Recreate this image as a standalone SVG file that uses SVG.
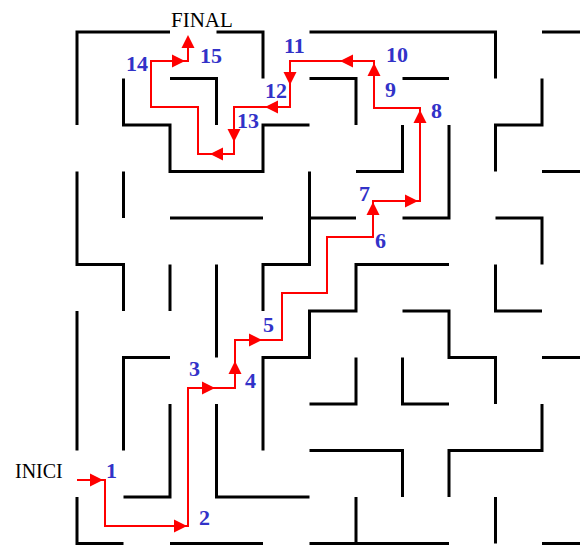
<svg xmlns="http://www.w3.org/2000/svg" xmlns:xlink="http://www.w3.org/1999/xlink" width="580" height="545" viewBox="0 0 580 545">
  <style>
    .wall { fill: none; stroke: #000; stroke-width: 3; stroke-linejoin: miter; stroke-linecap: butt; }
    .route { fill: none; stroke: #ff0000; stroke-width: 2; stroke-linejoin: miter; }
    .head { fill: #ff0000; }
    .step { font-family: "Liberation Serif", "Times New Roman", serif; font-size: 22px; font-weight: bold; fill: #3232c8; }
    .tag { font-family: "Liberation Serif", "Times New Roman", serif; font-size: 21px; fill: #000; }
  </style>
  <defs>
    <!-- arrowhead pointing right, tip at origin -->
    <path id="ah" d="M0 0 L-13 -6.5 L-13 6.5 Z"/>
  </defs>
  <rect width="580" height="545" fill="#fff"/>

  <!-- maze walls: grid x = 77 + 46.5i, y = 32 + 46.5j -->
  <g id="walls" class="wall">
    <path d="M77 125 V32 H170"/>
    <path d="M216.5 32 H263 V78.5"/>
    <path d="M309.5 32 H495.5 V78.5"/>
    <path d="M542 32 H582"/>
    <path d="M123.5 78.5 V125 H170 V171.5 H263 V125 H309.5"/>
    <path d="M170 78.5 H216.5 V125"/>
    <path d="M309.5 78.5 H356 V125"/>
    <path d="M402.5 78.5 H449"/>
    <path d="M356 171.5 H402.5 V125"/>
    <path d="M449 125 V218 H402.5"/>
    <path d="M542 78.5 V125 H495.5 V171.5"/>
    <path d="M542 171.5 H582"/>
    <path d="M77 171.5 V264.5 H123.5 V311"/>
    <path d="M123.5 171.5 V218"/>
    <path d="M170 218 H263"/>
    <path d="M263 311 V264.5 H309.5 V171.5 M309.5 218 H356"/>
    <path d="M170 264.5 V311"/>
    <path d="M216.5 264.5 V357.5"/>
    <path d="M495.5 218 H542 V264.5"/>
    <path d="M263 450.5 V357.5 H309.5 V311 H356 V264.5 H449"/>
    <path d="M402.5 311 H449 V357.5 H495.5 V404"/>
    <path d="M495.5 264.5 V311 H542"/>
    <path d="M542 357.5 H582"/>
    <path d="M77 311 V450.5"/>
    <path d="M170 357.5 H123.5 V450.5"/>
    <path d="M356 357.5 V404 H309.5"/>
    <path d="M402.5 357.5 V404 H449"/>
    <path d="M170 404 V497 H123.5"/>
    <path d="M216.5 404 V497 H309.5"/>
    <path d="M309.5 450.5 H402.5 V497"/>
    <path d="M542 404 V450.5 H449 V497"/>
    <path d="M77 497 V543.5 H123.5"/>
    <path d="M170 543.5 H263"/>
    <path d="M356 497 V543.5 M309.5 543.5 H449"/>
    <path d="M495.5 497 V543.5"/>
    <path d="M542 543.5 H582"/>
  </g>

  <!-- solution route with direction arrows -->
  <g id="connectors">
    <polyline class="route" points="77,480 105,480 105,526 188,526 188,388 235,388 235,340 282,340 282,293 327,293 327,237 373,237 373,201 420,201 420,108 374,108 374,61 290,61 290,107 234,107 234,154 198,154 198,107 151,107 151,61 188,61 188,42"/>
    <g class="head">
      <use xlink:href="#ah" transform="translate(103 480)"/>
      <use xlink:href="#ah" transform="translate(187 526)"/>
      <use xlink:href="#ah" transform="translate(215 388)"/>
      <use xlink:href="#ah" transform="translate(235 361) rotate(-90)"/>
      <use xlink:href="#ah" transform="translate(262 340)"/>
      <use xlink:href="#ah" transform="translate(373 202) rotate(-90)"/>
      <use xlink:href="#ah" transform="translate(418 201)"/>
      <use xlink:href="#ah" transform="translate(420 110) rotate(-90)"/>
      <use xlink:href="#ah" transform="translate(374 63) rotate(-90)"/>
      <use xlink:href="#ah" transform="translate(340 61) rotate(180)"/>
      <use xlink:href="#ah" transform="translate(290 85) rotate(90)"/>
      <use xlink:href="#ah" transform="translate(265 107) rotate(180)"/>
      <use xlink:href="#ah" transform="translate(234 142) rotate(90)"/>
      <use xlink:href="#ah" transform="translate(210 154) rotate(180)"/>
      <use xlink:href="#ah" transform="translate(185 61)"/>
      <use xlink:href="#ah" transform="translate(188 35) rotate(-90)"/>
    </g>
  </g>

  <!-- entry and exit -->
  <g id="start"><text class="tag" x="15" y="478" style="font-size:20px">INICI</text></g>
  <g id="goal"><text class="tag" x="171" y="27">FINAL</text></g>

  <!-- numbered waypoints -->
  <g id="p1"><text class="step" x="106" y="478">1</text></g>
  <g id="p2"><text class="step" x="199" y="525">2</text></g>
  <g id="p3"><text class="step" x="189" y="376">3</text></g>
  <g id="p4"><text class="step" x="245" y="388">4</text></g>
  <g id="p5"><text class="step" x="263" y="332">5</text></g>
  <g id="p6"><text class="step" x="375" y="248">6</text></g>
  <g id="p7"><text class="step" x="359" y="201">7</text></g>
  <g id="p8"><text class="step" x="431" y="118">8</text></g>
  <g id="p9"><text class="step" x="385" y="97">9</text></g>
  <g id="p10"><text class="step" x="386" y="62">10</text></g>
  <g id="p11"><text class="step" x="284" y="53">11</text></g>
  <g id="p12"><text class="step" x="265" y="98">12</text></g>
  <g id="p13"><text class="step" x="237" y="128">13</text></g>
  <g id="p14"><text class="step" x="126" y="71">14</text></g>
  <g id="p15"><text class="step" x="200" y="63">15</text></g>
</svg>
